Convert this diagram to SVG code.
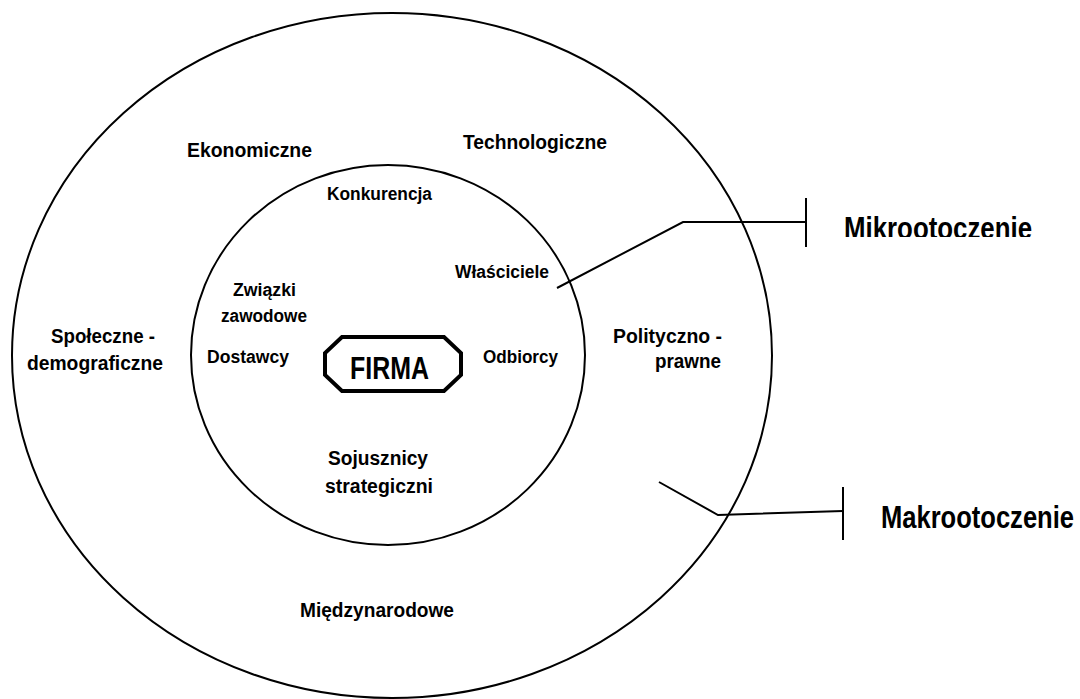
<svg xmlns="http://www.w3.org/2000/svg" width="1080" height="699" viewBox="0 0 1080 699">
  <style>
    .ln { fill: none; stroke: #000; stroke-width: 2; }
    .t { font-family: "Liberation Sans", Arial, sans-serif; font-weight: bold; fill: #000; }
    .o { font-size: 20px; }
    .i { font-size: 18px; }
    .big { font-size: 31px; }
  </style>
  <defs>
    <clipPath id="clipMikro">
      <rect x="820" y="190" width="260" height="47"/>
    </clipPath>
  </defs>
  <rect width="1080" height="699" fill="#fff"/>

  <g id="makro-circle">
    <ellipse class="ln" cx="392" cy="355.5" rx="380" ry="342.5"/>
  </g>
  <g id="mikro-circle">
    <ellipse class="ln" cx="388" cy="355" rx="197" ry="190"/>
  </g>

  <g id="firma">
    <polygon points="342,337 444,337 461,353 461,375 444,391 342,391 325,375 325,353" fill="#fff" stroke="#000" stroke-width="4"/>
    <text class="t big" x="350" y="379" textLength="79" lengthAdjust="spacingAndGlyphs">FIRMA</text>
  </g>

  <g id="outer-labels">
    <text id="ekonomiczne" class="t o" x="187" y="157" textLength="125" lengthAdjust="spacingAndGlyphs">Ekonomiczne</text>
    <text id="technologiczne" class="t o" x="463" y="149" textLength="144" lengthAdjust="spacingAndGlyphs">Technologiczne</text>
    <text id="spoleczne" class="t o" x="51" y="343" textLength="104" lengthAdjust="spacingAndGlyphs">Społeczne -</text>
    <text class="t o" x="27" y="370" textLength="136" lengthAdjust="spacingAndGlyphs">demograficzne</text>
    <text id="polityczno" class="t o" x="613" y="343" textLength="109" lengthAdjust="spacingAndGlyphs">Polityczno -</text>
    <text class="t o" x="655" y="368" textLength="66" lengthAdjust="spacingAndGlyphs">prawne</text>
    <text id="miedzynarodowe" class="t o" x="300" y="617" textLength="154" lengthAdjust="spacingAndGlyphs">Międzynarodowe</text>
  </g>

  <g id="inner-labels">
    <text id="konkurencja" class="t i" x="327" y="200" textLength="105" lengthAdjust="spacingAndGlyphs">Konkurencja</text>
    <text id="wlasciciele" class="t i" x="455" y="278" textLength="94" lengthAdjust="spacingAndGlyphs">Właściciele</text>
    <text id="zwiazki" class="t i" x="233" y="296" textLength="63" lengthAdjust="spacingAndGlyphs">Związki</text>
    <text class="t i" x="221" y="322" textLength="86" lengthAdjust="spacingAndGlyphs">zawodowe</text>
    <text id="dostawcy" class="t i" x="207" y="363" textLength="82" lengthAdjust="spacingAndGlyphs">Dostawcy</text>
    <text id="odbiorcy" class="t i" x="483" y="363" textLength="75" lengthAdjust="spacingAndGlyphs">Odbiorcy</text>
    <text id="sojusznicy" class="t o" x="328" y="465" textLength="100" lengthAdjust="spacingAndGlyphs">Sojusznicy</text>
    <text class="t o" x="325" y="493" textLength="108" lengthAdjust="spacingAndGlyphs">strategiczni</text>
  </g>

  <g id="connectors">
    <polyline class="ln" points="557,288 683,222 806,222"/>
    <line class="ln" x1="806" y1="198" x2="806" y2="247"/>
    <polyline class="ln" points="659,482 718,515 843,511"/>
    <line class="ln" x1="843" y1="487" x2="843" y2="540"/>
  </g>

  <g id="mikrootoczenie">
    <text class="t big" x="844" y="239" textLength="188" lengthAdjust="spacingAndGlyphs" clip-path="url(#clipMikro)">Mikrootoczenie</text>
  </g>
  <g id="makrootoczenie">
    <text class="t big" x="881" y="528" textLength="193" lengthAdjust="spacingAndGlyphs">Makrootoczenie</text>
  </g>
</svg>
